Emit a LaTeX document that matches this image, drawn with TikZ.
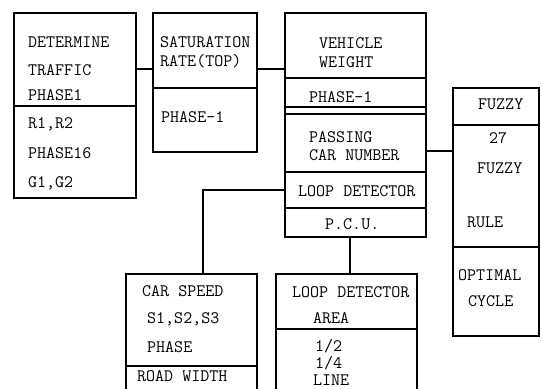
\documentclass[tikz,border=0pt]{standalone}
\usepackage{tikz}
\usetikzlibrary{positioning,calc}

\begin{document}
\begin{tikzpicture}[
  x=1pt, y=-1pt,
  sec/.style={rectangle, draw, line width=1.1pt, inner sep=0pt, outer sep=0pt},
  txt/.style={anchor=base west, inner sep=0pt, font=\fontsize{17.5}{20}\selectfont\ttfamily},
  conn/.style={line width=1.1pt}
]
\useasboundingbox (0,0) rectangle (542,389);
\clip (0,0) rectangle (542,389);

% Traffic phase
\node[sec, minimum width=122pt, minimum height=93pt] (a1) at (75,59.5) {};
\node[sec, minimum width=122pt, minimum height=92pt] (a2) at (75,152) {};
\node[txt] (tdet) at (28,47) {DETERMINE};
\node[txt] (ttraf) at (28,75) {TRAFFIC};
\node[txt] (tph1) at (28,100) {PHASE1};
\node[txt] (tr) at (28,128) {R1,R2};
\node[txt] (tph16) at (28,158) {PHASE16};
\node[txt] (tg) at (28,187) {G1,G2};

% Saturation rate
\node[sec, minimum width=104pt, minimum height=75pt] (b1) at (205,50.5) {};
\node[sec, minimum width=104pt, minimum height=64pt] (b2) at (205,120) {};
\node[txt] (tsat) at (160,47) {SATURATION};
\node[txt] (trate) at (160,66) {RATE(TOP)};
\node[txt] (tbph) at (161,122) {PHASE-1};

% Vehicle weight / passing cars
\node[sec, minimum width=141pt, minimum height=224pt] (veh) at (355.5,125) {};
\node[sec, minimum width=141pt, minimum height=65pt] (c1) at (355.5,45.5) {};
\node[sec, minimum width=141pt, minimum height=29pt] (c2) at (355.5,92.5) {};
\node[sec, minimum width=141pt, minimum height=58pt] (c3) at (355.5,143) {};
\node[sec, minimum width=141pt, minimum height=36pt] (c4) at (355.5,190) {};
\node[sec, minimum width=141pt, minimum height=29pt] (c5) at (355.5,222.5) {};
\node[txt] (tveh) at (319,48) {VEHICLE};
\node[txt] (twgt) at (319,67) {WEIGHT};
\node[txt] (tcph) at (309,102) {PHASE-1};
\node[txt] (tpass) at (309,142) {PASSING};
\node[txt] (tcar) at (309,160) {CAR NUMBER};
\node[txt] (tloop) at (298,196) {LOOP DETECTOR};
\node[txt] (tpcu) at (325,229) {P.C.U.};

% Fuzzy
\node[sec, minimum width=86pt, minimum height=37pt] (f1) at (496,106.5) {};
\node[sec, minimum width=86pt, minimum height=122pt] (f2) at (496,186) {};
\node[sec, minimum width=86pt, minimum height=89pt] (f3) at (496,291.5) {};
\node[txt] (tfz) at (478,109) {FUZZY};
\node[txt] (t27) at (489,143) {27};
\node[txt] (tfz2) at (477,173) {FUZZY};
\node[txt] (trule) at (467,227) {RULE};
\node[txt] (topt) at (458,280) {OPTIMAL};
\node[txt] (tcyc) at (468,306) {CYCLE};

% Car speed
\node[sec, minimum width=131pt, minimum height=92pt] (s1) at (191.5,320) {};
\node[sec, minimum width=131pt, minimum height=34pt] (s2) at (191.5,383) {};
\node[txt] (tspd) at (142,296) {CAR SPEED};
\node[txt] (ts) at (147,323) {S1,S2,S3};
\node[txt] (tsph) at (147,352) {PHASE};
\node[txt] (troad) at (137,381) {ROAD WIDTH};

% Loop detector area
\node[sec, minimum width=141pt, minimum height=55pt] (l1) at (346.5,301.5) {};
\node[sec, minimum width=141pt, minimum height=71pt] (l2) at (346.5,364.5) {};
\node[txt] (tlda) at (292,297) {LOOP DETECTOR};
\node[txt] (tarea) at (313,323) {AREA};
\node[txt] (thalf) at (315,351) {1/2};
\node[txt] (tqrt) at (315,368) {1/4};
\node[txt] (tline) at (313,385) {LINE};

% Connectors
\draw[conn] ([yshift=-9.5pt]a1.east) -- ([yshift=-18.5pt]b1.west);
\draw[conn] ([yshift=-18.5pt]b1.east) -- ([yshift=-23.5pt]c1.west);
\draw[conn] ([yshift=-8pt]c3.east) -- ([yshift=35pt]f2.west);
\draw[conn] (c4.west) -| ([xshift=11.5pt]s1.north);
\draw[conn] ([xshift=-5.5pt]c5.south) -- ([xshift=3.5pt]l1.north);

\end{tikzpicture}
\end{document}
